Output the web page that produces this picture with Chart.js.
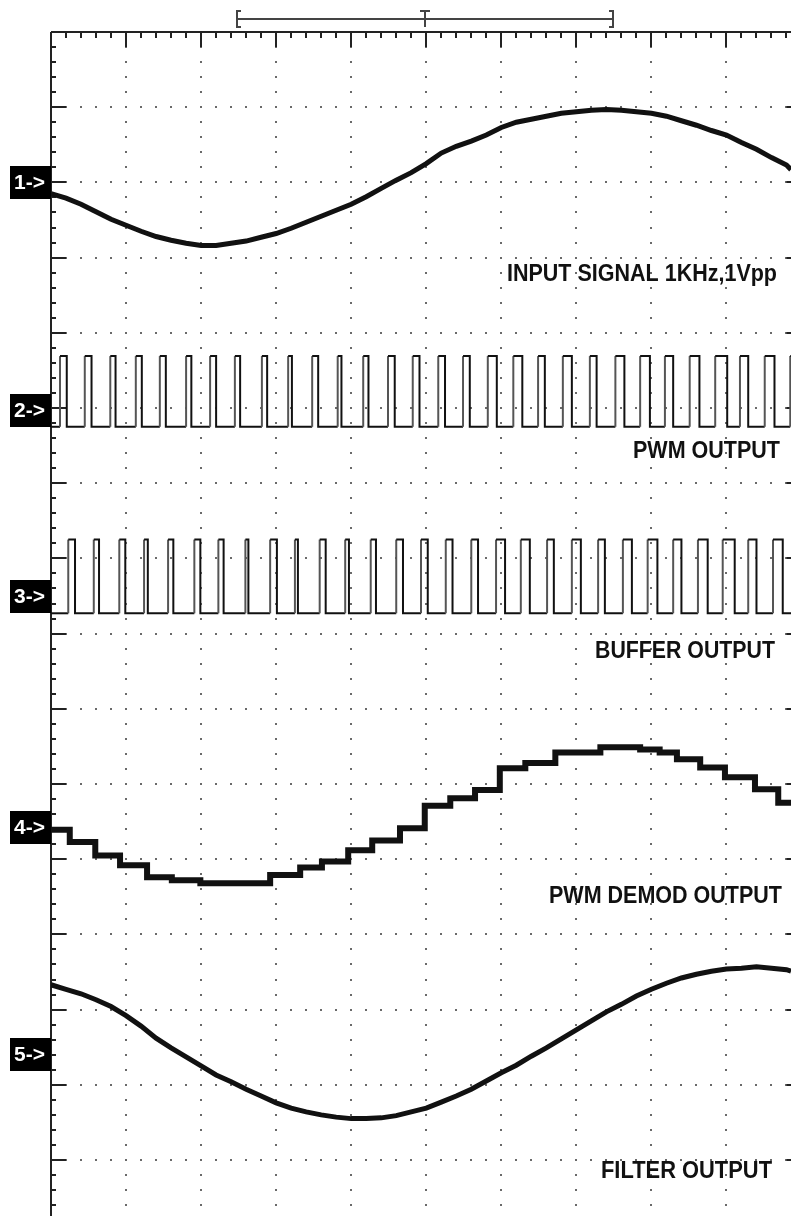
<!DOCTYPE html>
<html lang="en">
<head>
<meta charset="UTF-8">
<script src="https://cdn.jsdelivr.net/npm/chart.js"></script>
<title>PWM modulator scope capture</title>
<style>
  html, body { margin: 0; padding: 0; background: #fff; }
  canvas { display: block; }
</style>
</head>
<body>
<canvas id="scope" width="791" height="1216"></canvas>
<script>
// time in microseconds (100 us / div), amplitudes in screen divisions
const sampleTimes = [0, 20, 40, 60, 80, 100, 120, 140, 160, 180, 200, 220, 240, 260, 280, 300, 320, 340, 360, 380,
  400, 420, 440, 460, 480, 500, 520, 540, 560, 580, 600, 620, 640, 660, 680, 700, 720, 740, 760, 780,
  800, 820, 840, 860, 880, 900, 920, 940, 960, 980, 986];

const inputSignal = [-0.15, -0.21, -0.29, -0.39, -0.49, -0.57, -0.65, -0.72, -0.77, -0.81, -0.84, -0.84, -0.81, -0.78,
  -0.73, -0.68, -0.61, -0.53, -0.45, -0.37, -0.29, -0.19, -0.08, 0.03, 0.13, 0.25, 0.39, 0.48, 0.55, 0.63,
  0.73, 0.80, 0.84, 0.88, 0.92, 0.94, 0.96, 0.97, 0.96, 0.94, 0.92, 0.88, 0.82, 0.76, 0.69, 0.63, 0.53,
  0.44, 0.33, 0.23, 0.17];

const filterOutput = [0.92, 0.86, 0.80, 0.72, 0.63, 0.51, 0.37, 0.21, 0.08, -0.04, -0.16, -0.28, -0.37, -0.47,
  -0.56, -0.65, -0.72, -0.77, -0.81, -0.84, -0.86, -0.86, -0.85, -0.82, -0.77, -0.72, -0.64, -0.56, -0.47,
  -0.36, -0.25, -0.15, -0.03, 0.08, 0.20, 0.32, 0.44, 0.56, 0.66, 0.77, 0.86, 0.94, 1.01, 1.06, 1.10, 1.13,
  1.14, 1.16, 1.14, 1.12, 1.10];

// demodulated output is a staircase: level starts at each time
const demodTimes = [0, 25, 59, 92, 128, 161, 199, 292, 332, 361, 396, 428, 465, 498, 532, 565, 598, 632, 672,
  732, 785, 811, 834, 865, 898, 938, 969, 986];
const demodLevels = [-0.04, -0.20, -0.38, -0.51, -0.67, -0.71, -0.75, -0.64, -0.54, -0.46, -0.31, -0.18, -0.02,
  0.28, 0.38, 0.49, 0.78, 0.85, 0.99, 1.06, 1.03, 0.99, 0.90, 0.79, 0.66, 0.50, 0.32, 0.32];

// PWM pulses: rising edge time and high time (us)
const pwmRise = [12, 45, 79, 113, 145, 180, 212, 245, 281, 316, 348, 382, 416, 449, 482, 516, 549, 582, 616, 649,
  682, 718, 752, 785, 818, 851, 885, 918, 951, 985];
const pwmWidth = [9, 9, 7, 8, 8, 7, 8, 7, 7, 5, 8, 5, 7, 9, 9, 9, 9, 12, 12, 9, 12, 9, 12, 13, 11, 13, 16, 11, 13, 11];
const pwmLevels = [-0.22, 0.72];

const bufRise = [23, 57, 91, 124, 156, 191, 223, 259, 292, 325, 358, 392, 426, 460, 493, 526, 560, 593, 626, 661,
  694, 729, 762, 795, 829, 862, 895, 929, 962];
const bufWidth = [9, 7, 8, 5, 7, 8, 7, 4, 9, 4, 8, 5, 7, 9, 9, 9, 9, 12, 12, 9, 12, 9, 12, 13, 11, 13, 16, 11, 13];
const bufLevels = [-0.23, 0.75];

// ground marker of each channel, divisions below top of screen
const channelOffset = [-2.0, -5.03, -7.5, -10.57, -13.59];
const channelNames = ['1->', '2->', '3->', '4->', '5->'];
const traceLabels = ['INPUT SIGNAL 1KHz,1Vpp', 'PWM OUTPUT', 'BUFFER OUTPUT', 'PWM DEMOD OUTPUT', 'FILTER OUTPUT'];
const recordWindow = [248, 498, 749]; // start, trigger, end (us)

const T_MAX = 986, ROWS = 15.745;

function pulses(rise, width, lv, off) {
  const pts = [{ x: 0, y: off + lv[0] }];
  rise.forEach((r, i) => {
    pts.push({ x: r, y: off + lv[0] }, { x: r, y: off + lv[1] },
      { x: r + width[i], y: off + lv[1] }, { x: r + width[i], y: off + lv[0] });
  });
  pts.push({ x: T_MAX, y: off + lv[0] });
  return pts;
}

// vertical edges of the square waves come out lighter on the scope
const edgeColour = c => (c.p0.parsed.x === c.p1.parsed.x && c.p0DataIndex % 4 === 1 ? '#555' : undefined);

const datasets = [
  { data: sampleTimes.map((t, i) => ({ x: t, y: channelOffset[0] + inputSignal[i] })), borderWidth: 5 },
  { data: pulses(pwmRise, pwmWidth, pwmLevels, channelOffset[1]), borderWidth: 2, segment: { borderColor: edgeColour } },
  { data: pulses(bufRise, bufWidth, bufLevels, channelOffset[2]), borderWidth: 2, segment: { borderColor: edgeColour } },
  { data: demodTimes.map((t, i) => ({ x: t, y: channelOffset[3] + demodLevels[i] })), borderWidth: 6, stepped: true },
  { data: sampleTimes.map((t, i) => ({ x: t, y: channelOffset[4] + filterOutput[i] })), borderWidth: 5 }
].map(d => Object.assign({ borderColor: '#111', pointRadius: 0, tension: 0, borderJoinStyle: 'miter' }, d));

const scopeScreen = {
  id: 'scopeScreen',
  beforeDatasetsDraw(chart) {
    const ctx = chart.ctx, xs = chart.scales.x, ys = chart.scales.y, a = chart.chartArea;
    ctx.save();
    // dotted graticule
    ctx.fillStyle = '#6a6a6a';
    for (let d = 1; d <= 15; d++) {
      const py = Math.round(ys.getPixelForValue(-d));
      for (let k = 1; k * 20 < T_MAX; k++) {
        ctx.fillRect(Math.round(xs.getPixelForValue(k * 20)) - 1, py - 1, 2, 2);
      }
    }
    for (let t = 100; t < T_MAX; t += 100) {
      const px = Math.round(xs.getPixelForValue(t));
      for (let k = 1; k * 0.2 < ROWS; k++) {
        ctx.fillRect(px - 1, Math.round(ys.getPixelForValue(-k * 0.2)) - 1, 2, 2);
      }
    }
    // frame and ticks
    ctx.strokeStyle = '#222';
    ctx.lineWidth = 2;
    ctx.beginPath();
    ctx.moveTo(a.left, a.top); ctx.lineTo(a.right, a.top);
    ctx.moveTo(a.left, a.top); ctx.lineTo(a.left, a.bottom);
    for (let k = 1; k * 20 < T_MAX; k++) {
      const px = Math.round(xs.getPixelForValue(k * 20));
      ctx.moveTo(px, a.top); ctx.lineTo(px, a.top + (k % 5 === 0 ? 15 : 6));
    }
    for (let k = 1; k * 0.2 < ROWS; k++) {
      const py = Math.round(ys.getPixelForValue(-k * 0.2));
      ctx.moveTo(a.left, py); ctx.lineTo(a.left + (k % 5 === 0 ? 15 : 5), py);
    }
    const rx = xs.getPixelForValue(1000);
    for (let d = 1; d <= 15; d++) {
      const py = Math.round(ys.getPixelForValue(-d));
      ctx.moveTo(rx, py); ctx.lineTo(rx - 15, py);
    }
    ctx.stroke();
    // record window bracket
    const [w0, wt, w1] = recordWindow.map(t => Math.round(xs.getPixelForValue(t)));
    ctx.strokeStyle = '#444';
    ctx.beginPath();
    ctx.moveTo(w0, 19); ctx.lineTo(w1, 19);
    ctx.moveTo(w0 + 4, 11); ctx.lineTo(w0, 11); ctx.lineTo(w0, 27); ctx.lineTo(w0 + 4, 27);
    ctx.moveTo(w1 - 4, 11); ctx.lineTo(w1, 11); ctx.lineTo(w1, 27); ctx.lineTo(w1 - 4, 27);
    ctx.moveTo(wt - 5, 11); ctx.lineTo(wt + 5, 11);
    ctx.moveTo(wt, 11); ctx.lineTo(wt, 27);
    ctx.stroke();
    ctx.restore();
  },
  afterDatasetsDraw(chart) {
    const ctx = chart.ctx, ys = chart.scales.y;
    ctx.save();
    ctx.textBaseline = 'middle';
    channelOffset.forEach((off, i) => {
      const py = ys.getPixelForValue(off);
      ctx.fillStyle = '#000';
      ctx.fillRect(10, Math.round(py - 16), 41, 33);
      ctx.fillStyle = '#fff';
      ctx.font = 'bold 21px "Liberation Sans", Arial, sans-serif';
      ctx.textAlign = 'left';
      ctx.fillText(channelNames[i], 14, py + 1);
    });
    // [left, right, middle y] of each label on screen
    const labelBox = [[507, 777, 275], [633, 780, 452], [595, 775, 652], [549, 782, 897], [601, 772, 1172]];
    ctx.fillStyle = '#111';
    ctx.textAlign = 'left';
    ctx.font = 'bold 23px "Liberation Sans", Arial, sans-serif';
    traceLabels.forEach((s, i) => {
      const [l, r, y] = labelBox[i];
      const sx = (r - l) / ctx.measureText(s).width;
      ctx.save();
      ctx.translate(l, y);
      ctx.scale(sx, 1);
      ctx.fillText(s, 0, 0);
      ctx.restore();
    });
    ctx.restore();
  }
};

new Chart(document.getElementById('scope'), {
  type: 'line',
  data: { datasets },
  options: {
    responsive: false,
    animation: false,
    layout: { padding: { left: 51, top: 32, right: 0, bottom: 0 } },
    plugins: { legend: { display: false }, tooltip: { enabled: false } },
    scales: {
      x: { type: 'linear', min: 0, max: T_MAX, display: false },
      y: { type: 'linear', min: -ROWS, max: 0, display: false }
    }
  },
  plugins: [scopeScreen]
});
</script>
</body>
</html>
